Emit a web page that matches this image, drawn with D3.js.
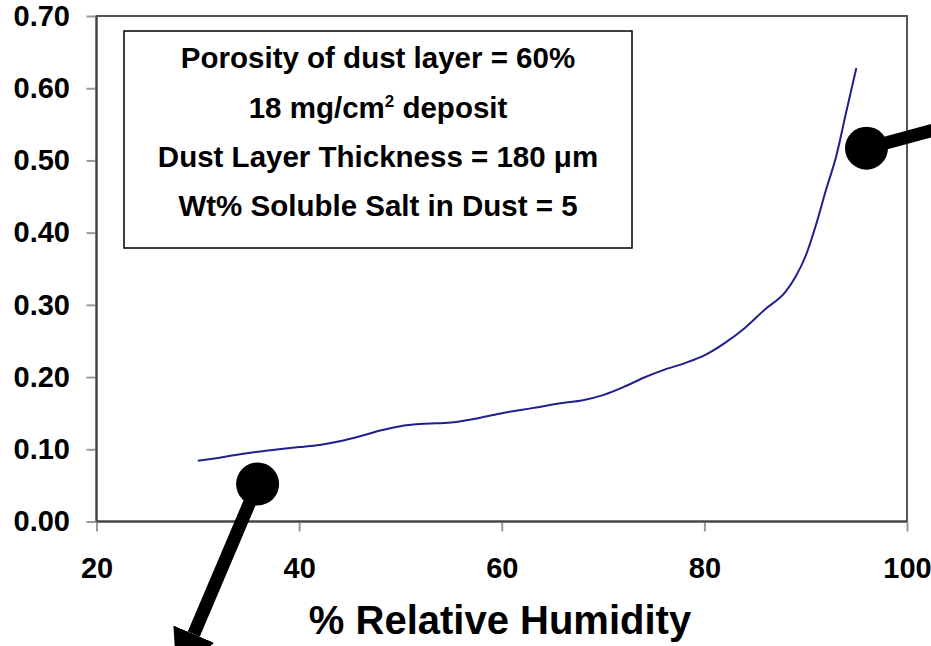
<!DOCTYPE html>
<html>
<head>
<meta charset="utf-8">
<script src="https://cdn.jsdelivr.net/npm/d3@7"></script>
<style>
  html, body { margin: 0; padding: 0; background: #fff; }
  svg { display: block; }
  text { font-family: "Liberation Sans", Arial, sans-serif; font-weight: bold; fill: #000; }
</style>
</head>
<body>
<svg id="chart" width="931" height="646"></svg>
<script>
// Relative humidity (%) and the modelled curve value at each point
const humidity = [30, 32, 35, 38, 40, 42, 44, 46, 48, 50, 52, 55, 58, 60, 63, 66, 68, 70, 72, 74, 76, 78, 80, 82, 84, 86, 88, 89, 90, 91, 92, 93, 94, 95];
const curveValue = [0.084, 0.088, 0.095, 0.100, 0.103, 0.106, 0.111, 0.118, 0.126, 0.132, 0.135, 0.137, 0.144, 0.150, 0.157, 0.164, 0.168, 0.175, 0.186, 0.199, 0.210, 0.219, 0.230, 0.247, 0.268, 0.294, 0.318, 0.339, 0.368, 0.410, 0.459, 0.505, 0.567, 0.628];

// Axis ticks
const xTicks = [20, 40, 60, 80, 100];
const yTicks = [0, 0.1, 0.2, 0.3, 0.4, 0.5, 0.6, 0.7];

// Text box lines ("|2|" marks a superscript)
const noteLines = ["Porosity of dust layer = 60%", "18 mg/cm|2| deposit", "Dust Layer Thickness = 180 μm", "Wt% Soluble Salt in Dust = 5"];

// Pointer annotations: dot position and arrow-shaft end, in data units
const pointers = [
  { from: [35.9, 0.052], to: [29.6, -0.156] },
  { from: [96.0, 0.517], to: [106.0, 0.555] }
];

const svg = d3.select("#chart");
const x = d3.scaleLinear().domain([20, 100]).range([96.5, 907]);
const y = d3.scaleLinear().domain([0, 0.7]).range([521.5, 16]);

// Plot area frame
svg.append("rect")
  .attr("x", x(20)).attr("y", y(0.7))
  .attr("width", x(100) - x(20)).attr("height", y(0) - y(0.7))
  .attr("fill", "none").attr("stroke", "#555").attr("stroke-width", 2);

// Y axis
const yAxis = svg.append("g")
  .attr("transform", `translate(${x(20)},0)`)
  .call(d3.axisLeft(y).tickValues(yTicks).tickSize(10).tickPadding(16.5).tickFormat(d3.format(".2f")));
yAxis.select(".domain").remove();
yAxis.selectAll(".tick line").attr("stroke", "#999").attr("stroke-width", 2);
yAxis.selectAll(".tick text").attr("font-size", 29).attr("font-family", null).attr("fill", "#000");

// X axis
const xAxis = svg.append("g")
  .attr("transform", `translate(0,${y(0)})`)
  .call(d3.axisBottom(x).tickValues(xTicks).tickSize(10).tickPadding(26).tickFormat(d3.format("d")));
xAxis.select(".domain").remove();
xAxis.selectAll(".tick line").attr("stroke", "#999").attr("stroke-width", 2);
xAxis.selectAll(".tick text").attr("font-size", 29).attr("font-family", null).attr("fill", "#000");

// Axis lines drawn over the frame
svg.append("line").attr("x1", x(20)).attr("x2", x(20)).attr("y1", y(0.7)).attr("y2", y(0))
  .attr("stroke", "#444").attr("stroke-width", 2);
svg.append("line").attr("x1", x(20)).attr("x2", x(100)).attr("y1", y(0)).attr("y2", y(0))
  .attr("stroke", "#444").attr("stroke-width", 2);

// X axis title
svg.append("text")
  .attr("x", 500).attr("y", 634)
  .attr("text-anchor", "middle").attr("font-size", 40)
  .text("% Relative Humidity");

// Data curve
const data = humidity.map((h, i) => ({ h, v: curveValue[i] }));
svg.append("path")
  .datum(data)
  .attr("fill", "none").attr("stroke", "#1f1f8f").attr("stroke-width", 2)
  .attr("d", d3.line().x(d => x(d.h)).y(d => y(d.v)).curve(d3.curveMonotoneX));

// Note box
svg.append("rect")
  .attr("x", 124).attr("y", 31).attr("width", 508).attr("height", 217)
  .attr("fill", "#fff").attr("stroke", "#000").attr("stroke-width", 1.5);
const noteBase = [68, 118, 167, 216];
noteLines.forEach((line, i) => {
  const t = svg.append("text")
    .attr("x", 378).attr("y", noteBase[i])
    .attr("text-anchor", "middle").attr("font-size", 29.5);
  line.split("|").forEach((part, j) => {
    if (j === 1) {
      t.append("tspan").attr("font-size", 17).attr("dy", -11).text(part);
    } else if (j === 2) {
      t.append("tspan").attr("dy", 11).text(part);
    } else {
      t.append("tspan").text(part);
    }
  });
});

// Pointer arrows with round dots; the head starts where the shaft ends
const defs = svg.append("defs");
defs.append("marker")
  .attr("id", "head").attr("viewBox", "0 0 10 10")
  .attr("refX", 0).attr("refY", 5)
  .attr("markerWidth", 3.4).attr("markerHeight", 3.4)
  .attr("markerUnits", "strokeWidth").attr("orient", "auto")
  .append("path").attr("d", "M0,0 L10,5 L0,10 Z").attr("fill", "#000");

pointers.forEach(p => {
  svg.append("line")
    .attr("x1", x(p.from[0])).attr("y1", y(p.from[1]))
    .attr("x2", x(p.to[0])).attr("y2", y(p.to[1]))
    .attr("stroke", "#000").attr("stroke-width", 13)
    .attr("marker-end", "url(#head)");
  svg.append("circle")
    .attr("cx", x(p.from[0])).attr("cy", y(p.from[1])).attr("r", 21.5)
    .attr("fill", "#000");
});
</script>
</body>
</html>
